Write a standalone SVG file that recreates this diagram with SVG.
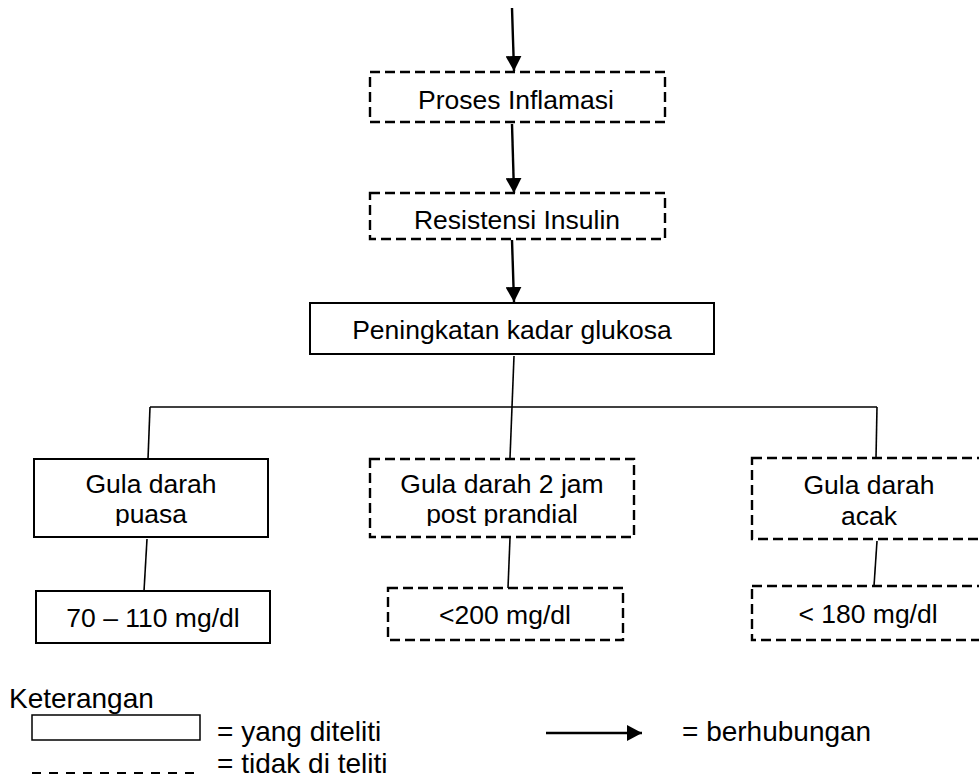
<svg xmlns="http://www.w3.org/2000/svg" width="979" height="778" viewBox="0 0 979 778">
<style>
  .box { fill: #fff; stroke: #000; stroke-width: 2; }
  .dash { fill: #fff; stroke: #000; stroke-width: 2.4; stroke-dasharray: 10 5; }
  .t { font-family: "Liberation Sans", Arial, sans-serif; font-size: 26.5px; fill: #000; text-anchor: middle; }
  .lg { font-family: "Liberation Sans", Arial, sans-serif; font-size: 28px; fill: #000; }
  .ln { stroke: #000; stroke-width: 1.6; fill: none; }
  .ar { stroke: #000; stroke-width: 2.4; fill: none; marker-end: url(#ah); }
</style>
<defs>
  <marker id="ah" viewBox="0 0 15 16" refX="15" refY="8" markerWidth="15" markerHeight="16" markerUnits="userSpaceOnUse" orient="auto">
    <path d="M0,0 L15,8 L0,16 z" fill="#000"/>
  </marker>
  <clipPath id="clipRow"><rect x="0" y="0" width="979" height="526"/></clipPath>
</defs>
<rect width="979" height="778" fill="#fff"/>

<g id="connectors">
  <line class="ar" x1="512" y1="8" x2="514" y2="71"/>
  <line class="ar" x1="512" y1="124" x2="514" y2="193"/>
  <line class="ar" x1="512" y1="240" x2="514" y2="302"/>
  <line class="ln" x1="514" y1="356" x2="512" y2="407"/>
  <line class="ln" x1="150" y1="407" x2="877" y2="407"/>
  <line class="ln" x1="512" y1="407" x2="510" y2="458"/>
  <line class="ln" x1="150" y1="407" x2="148" y2="459"/>
  <line class="ln" x1="877" y1="407" x2="876" y2="458"/>
  <line class="ln" x1="147" y1="539" x2="144" y2="591"/>
  <line class="ln" x1="510" y1="538" x2="508" y2="588"/>
  <line class="ln" x1="877" y1="541" x2="874" y2="586"/>
</g>

<g id="proses-inflamasi">
  <rect class="dash" x="370" y="72" width="295" height="50"/>
  <text class="t" x="516" y="109">Proses Inflamasi</text>
</g>
<g id="resistensi-insulin">
  <rect class="dash" x="370" y="193" width="295" height="46"/>
  <text class="t" x="517" y="229">Resistensi Insulin</text>
</g>
<g id="peningkatan-glukosa">
  <rect class="box" x="310" y="303" width="404" height="51"/>
  <text class="t" x="512" y="339">Peningkatan kadar glukosa</text>
</g>
<g id="gula-puasa">
  <rect class="box" x="34" y="459" width="234" height="78"/>
  <text class="t" x="151" y="493">Gula darah</text>
  <text class="t" x="151" y="523" clip-path="url(#clipRow)">puasa</text>
</g>
<g id="gula-2jam">
  <rect class="dash" x="370" y="459" width="264" height="78"/>
  <text class="t" x="502" y="493">Gula darah 2 jam</text>
  <text class="t" x="502" y="523" clip-path="url(#clipRow)">post prandial</text>
</g>
<g id="gula-acak">
  <rect class="dash" x="752" y="458" width="260" height="81"/>
  <text class="t" x="869" y="494">Gula darah</text>
  <text class="t" x="869" y="525">acak</text>
</g>
<g id="nilai-puasa">
  <rect class="box" x="36" y="591" width="234" height="52"/>
  <text class="t" x="153" y="627">70 – 110 mg/dl</text>
</g>
<g id="nilai-2jam">
  <rect class="dash" x="388" y="588" width="235" height="52"/>
  <text class="t" x="505" y="624">&lt;200 mg/dl</text>
</g>
<g id="nilai-acak">
  <rect class="dash" x="752" y="586" width="260" height="54"/>
  <text class="t" x="868" y="623">&lt; 180 mg/dl</text>
</g>

<g id="legend">
  <text class="lg" x="9" y="708">Keterangan</text>
  <rect x="32" y="715" width="168" height="25" fill="#fff" stroke="#000" stroke-width="1.5"/>
  <text class="lg" x="217" y="741">= yang diteliti</text>
  <line x1="32" y1="773" x2="200" y2="773" stroke="#000" stroke-width="1.8" stroke-dasharray="9 8"/>
  <text class="lg" x="217" y="773">= tidak di teliti</text>
  <line class="ar" x1="546" y1="733" x2="642" y2="733"/>
  <text class="lg" x="682" y="741">= berhubungan</text>
</g>
</svg>
